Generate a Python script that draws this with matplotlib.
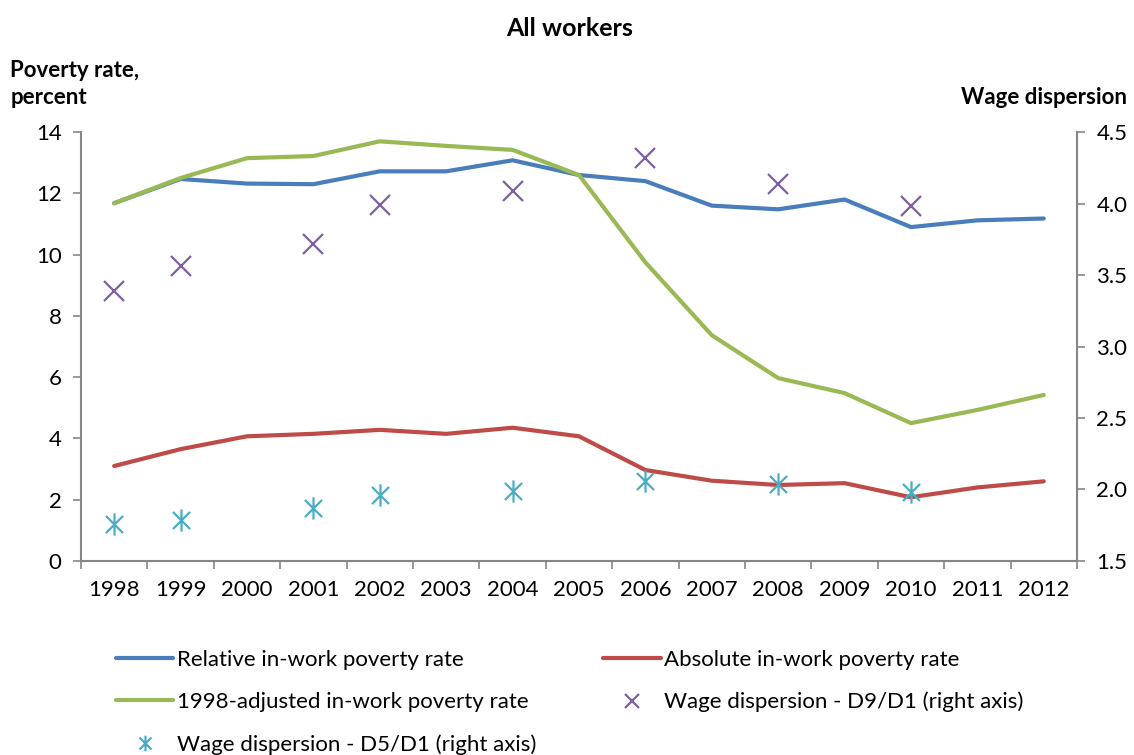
import numpy as np
import matplotlib.pyplot as plt
from matplotlib.path import Path

plt.rcParams['font.family'] = ['Lato', 'DejaVu Sans']

years = list(range(1998, 2013))
relative = [11.68, 12.47, 12.32, 12.3, 12.72, 12.72, 13.08, 12.6, 12.4, 11.6, 11.48, 11.8, 10.9, 11.12, 11.18]
absolute = [3.1, 3.65, 4.07, 4.15, 4.28, 4.15, 4.35, 4.07, 2.97, 2.62, 2.48, 2.54, 2.08, 2.4, 2.6]
adjusted = [11.68, 12.5, 13.15, 13.22, 13.7, 13.55, 13.42, 12.6, 9.75, 7.37, 5.97, 5.48, 4.5, 4.93, 5.42]

disp_years = [1998, 1999, 2001, 2002, 2004, 2006, 2008, 2010]
d9d1 = [3.39, 3.56, 3.72, 3.99, 4.09, 4.32, 4.14, 3.98]
d5d1 = [1.76, 1.79, 1.87, 1.96, 1.99, 2.06, 2.04, 1.98]

blue = '#4A7EBB'
red = '#BE4B48'
green = '#98B954'
purple = '#7D60A0'
cyan = '#4BACC6'
grey = '#868686'

# Excel style star marker: X with a vertical bar
star = Path([(-1, -1), (1, 1), (-1, 1), (1, -1), (0, -1.3), (0, 1.3)],
            [Path.MOVETO, Path.LINETO, Path.MOVETO, Path.LINETO, Path.MOVETO, Path.LINETO])

fig = plt.figure(figsize=(11.34, 7.55), dpi=100)
ax = fig.add_axes([0.0714, 0.257, 0.8783, 0.568])
ax2 = ax.twinx()

x = np.arange(len(years))
xd = [years.index(y) for y in disp_years]

l1, = ax.plot(x, relative, color=blue, lw=3, label='Relative in-work poverty rate', solid_capstyle='round')
l2, = ax.plot(x, absolute, color=red, lw=3, label='Absolute in-work poverty rate', solid_capstyle='round')
l3, = ax.plot(x, adjusted, color=green, lw=3, label='1998-adjusted in-work poverty rate', solid_capstyle='round')
s1, = ax2.plot(xd, d9d1, ls='none', marker='x', ms=14, mew=1.6, color=purple,
               label='Wage dispersion - D9/D1 (right axis)')
s2, = ax2.plot(xd, d5d1, ls='none', marker=star, ms=16, mew=1.6, color=cyan,
               label='Wage dispersion - D5/D1 (right axis)')

ax.set_xlim(-0.5, len(years) - 0.5)
ax.set_ylim(0, 14)
ax.set_yticks(range(0, 15, 2))
ax2.set_ylim(1.5, 4.5)
ax2.set_yticks(np.arange(1.5, 4.51, 0.5))
ax2.set_yticklabels(['%.1f' % v for v in np.arange(1.5, 4.51, 0.5)])

ax.set_xticks(x)
ax.set_xticklabels([str(y) for y in years])
ax.set_xticks(np.arange(-0.5, len(years), 1), minor=True)
ax.tick_params(axis='x', which='major', length=0, labelsize=16, pad=14)
ax.tick_params(axis='x', which='minor', length=6, color=grey, width=1.2)
ax.tick_params(axis='y', length=6, color=grey, width=1.2, labelsize=16, pad=8)
ax2.tick_params(axis='y', length=6, color=grey, width=1.2, labelsize=16, pad=8)

for a in (ax, ax2):
    for side in ('left', 'right', 'bottom'):
        a.spines[side].set_color(grey)
        a.spines[side].set_linewidth(1.5)
    a.spines['top'].set_visible(False)
ax.spines['right'].set_visible(False)
ax2.spines['left'].set_visible(False)
ax2.spines['bottom'].set_visible(False)

fig.text(0.502, 0.962, 'All workers', ha='center', va='center', fontsize=18, fontweight='bold')
fig.text(0.009, 0.889, 'Poverty rate,\npercent', ha='left', va='center', fontsize=16,
         fontweight='bold', linespacing=1.35)
fig.text(0.994, 0.871, 'Wage dispersion', ha='right', va='center', fontsize=16, fontweight='bold')

fig.legend(handles=[l1, l3, s2, l2, s1], loc='upper left', bbox_to_anchor=(0.0844, 0.166),
           ncol=2, frameon=False, fontsize=16, handlelength=2.6, handletextpad=0.15,
           columnspacing=3.0, labelspacing=1.0, markerscale=0.7)

fig.savefig('out.png', dpi=100)
